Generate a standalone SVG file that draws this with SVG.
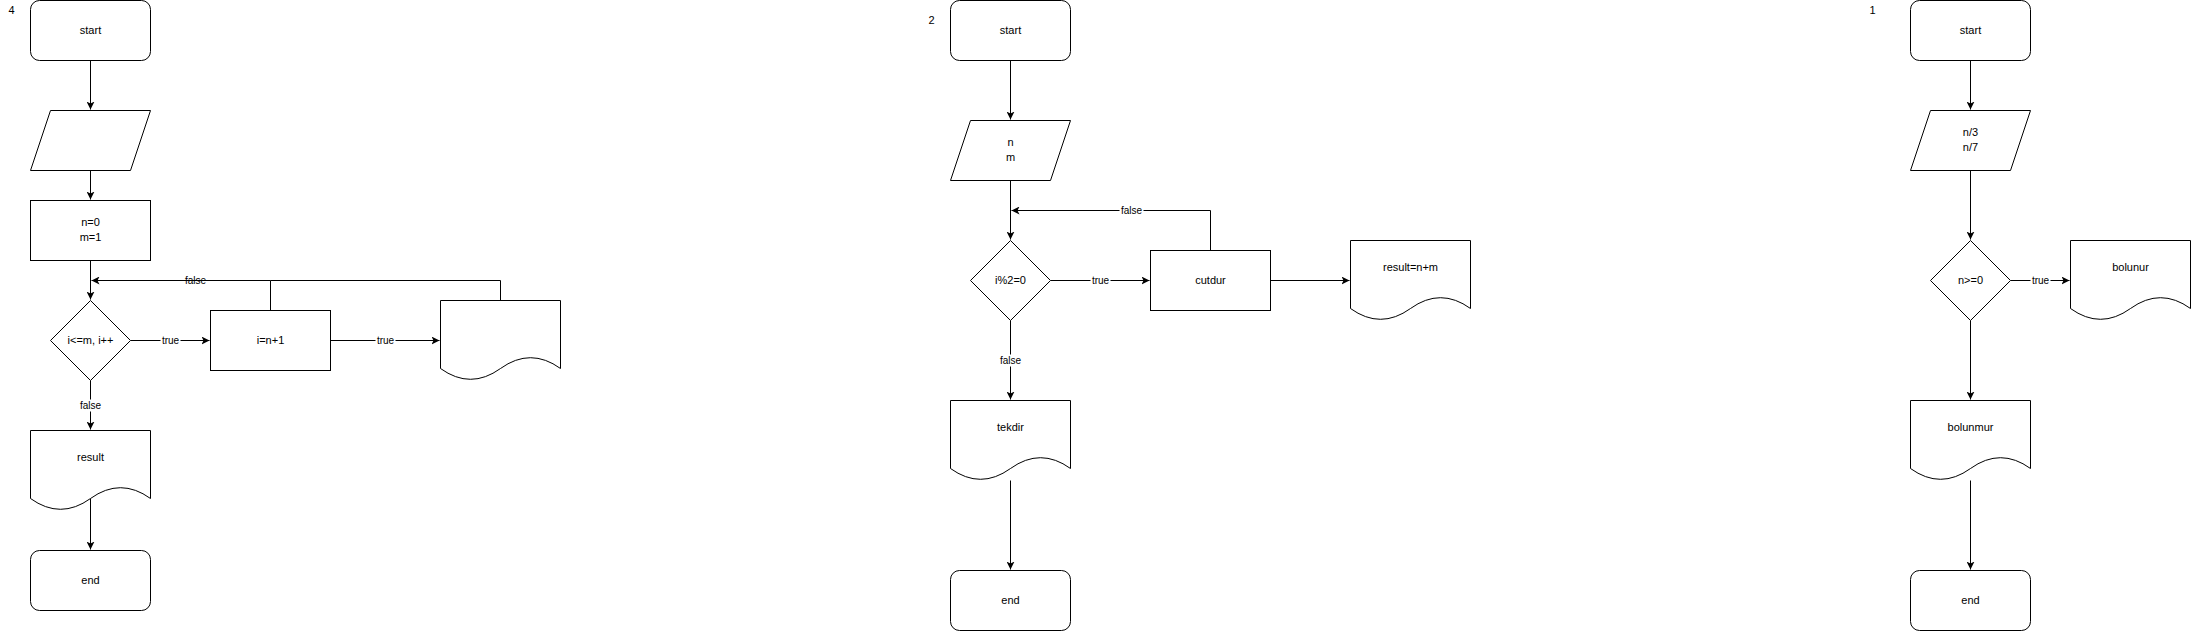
<svg xmlns="http://www.w3.org/2000/svg" width="2191" height="631" viewBox="0 0 2191 631">
<defs>
<style>
.s{fill:#fff;stroke:#000;stroke-width:1}
.e{fill:none;stroke:#000;stroke-width:1}
.t{font-family:"Liberation Sans",Arial,sans-serif;font-size:11px;fill:#000;text-anchor:middle;dominant-baseline:central}
.l{font-family:"Liberation Sans",Arial,sans-serif;font-size:10px;fill:#000;text-anchor:middle;dominant-baseline:central}
.bg{fill:#fff;stroke:none}
</style>
<marker id="arr" markerWidth="9" markerHeight="8" refX="8" refY="4" orient="auto" markerUnits="userSpaceOnUse" viewBox="0 0 9 8"><path d="M0,0 L8,4 L0,8 L2,4 Z" fill="#000"/></marker>
</defs>
<rect x="0" y="0" width="2191" height="631" fill="#fff"/>
<g transform="translate(0.5,0.5)">
<g id="connectors">
<path class="e" d="M90,60 V109" marker-end="url(#arr)"/>
<path class="e" d="M90,170 V199" marker-end="url(#arr)"/>
<path class="e" d="M90,260 V299" marker-end="url(#arr)"/>
<path class="e" d="M270,310 V280 H91" marker-end="url(#arr)"/>
<path class="e" d="M500,300 V280 H270"/>
<path class="e" d="M130,340 H209" marker-end="url(#arr)"/>
<path class="e" d="M330,340 H439" marker-end="url(#arr)"/>
<path class="e" d="M90,380 V429" marker-end="url(#arr)"/>
<path class="e" d="M90,498 V549" marker-end="url(#arr)"/>
<path class="e" d="M1010,60 V119" marker-end="url(#arr)"/>
<path class="e" d="M1010,180 V239" marker-end="url(#arr)"/>
<path class="e" d="M1210,250 V210 H1011" marker-end="url(#arr)"/>
<path class="e" d="M1050,280 H1149" marker-end="url(#arr)"/>
<path class="e" d="M1270,280 H1349" marker-end="url(#arr)"/>
<path class="e" d="M1010,320 V399" marker-end="url(#arr)"/>
<path class="e" d="M1010,480 V569" marker-end="url(#arr)"/>
<path class="e" d="M1970,60 V109" marker-end="url(#arr)"/>
<path class="e" d="M1970,170 V239" marker-end="url(#arr)"/>
<path class="e" d="M2010,280 H2069" marker-end="url(#arr)"/>
<path class="e" d="M1970,320 V399" marker-end="url(#arr)"/>
<path class="e" d="M1970,480 V569" marker-end="url(#arr)"/>
<text class="l" x="195" y="279.5">false</text>
<rect class="bg" x="160" y="334" width="20" height="12"/><text class="l" x="170" y="339.5">true</text>
<rect class="bg" x="375" y="334" width="20" height="12"/><text class="l" x="385" y="339.5">true</text>
<rect class="bg" x="78" y="399" width="24" height="12"/><text class="l" x="90" y="404.5">false</text>
<rect class="bg" x="1119" y="204" width="24" height="12"/><text class="l" x="1131" y="209.5">false</text>
<rect class="bg" x="1090" y="274" width="20" height="12"/><text class="l" x="1100" y="279.5">true</text>
<rect class="bg" x="998" y="354" width="24" height="12"/><text class="l" x="1010" y="359.5">false</text>
<rect class="bg" x="2030" y="274" width="20" height="12"/><text class="l" x="2040" y="279.5">true</text>
</g>
<g id="lbl4"><text class="t" x="11" y="9.5">4</text></g>
<g id="d4-start"><rect class="s" x="30" y="0" width="120" height="60" rx="9"/><text class="t" x="90" y="29">start</text></g>
<g id="d4-input"><path class="s" d="M50,110 H150 L130,170 H30 Z"/></g>
<g id="d4-init"><rect class="s" x="30" y="200" width="120" height="60"/><text class="t" x="90" y="221.5">n=0</text><text class="t" x="90" y="236.5">m=1</text></g>
<g id="d4-cond"><path class="s" d="M90,300 L130,340 L90,380 L50,340 Z"/><text class="t" x="90" y="339">i&lt;=m, i++</text></g>
<g id="d4-inc"><rect class="s" x="210" y="310" width="120" height="60"/><text class="t" x="270" y="339">i=n+1</text></g>
<g id="d4-doc"><path class="s" d="M440,300 H560 V368 Q530,346.4 500,368 Q470,389.6 440,368 Z"/></g>
<g id="d4-result"><path class="s" d="M30,430 H150 V498 Q120,476.4 90,498 Q60,519.6 30,498 Z"/><text class="t" x="90" y="456.5">result</text></g>
<g id="d4-end"><rect class="s" x="30" y="550" width="120" height="60" rx="9"/><text class="t" x="90" y="579">end</text></g>
<g id="lbl2"><text class="t" x="931" y="19.5">2</text></g>
<g id="d2-start"><rect class="s" x="950" y="0" width="120" height="60" rx="9"/><text class="t" x="1010" y="29">start</text></g>
<g id="d2-input"><path class="s" d="M970,120 H1070 L1050,180 H950 Z"/><text class="t" x="1010" y="141.5">n</text><text class="t" x="1010" y="156.5">m</text></g>
<g id="d2-cond"><path class="s" d="M1010,240 L1050,280 L1010,320 L970,280 Z"/><text class="t" x="1010" y="279">i%2=0</text></g>
<g id="d2-cutdur"><rect class="s" x="1150" y="250" width="120" height="60"/><text class="t" x="1210" y="279">cutdur</text></g>
<g id="d2-result"><path class="s" d="M1350,240 H1470 V308 Q1440,286.4 1410,308 Q1380,329.6 1350,308 Z"/><text class="t" x="1410" y="266">result=n+m</text></g>
<g id="d2-tekdir"><path class="s" d="M950,400 H1070 V468 Q1040,446.4 1010,468 Q980,489.6 950,468 Z"/><text class="t" x="1010" y="426.5">tekdir</text></g>
<g id="d2-end"><rect class="s" x="950" y="570" width="120" height="60" rx="9"/><text class="t" x="1010" y="599">end</text></g>
<g id="lbl1"><text class="t" x="1872" y="9.5">1</text></g>
<g id="d1-start"><rect class="s" x="1910" y="0" width="120" height="60" rx="9"/><text class="t" x="1970" y="29">start</text></g>
<g id="d1-input"><path class="s" d="M1930,110 H2030 L2010,170 H1910 Z"/><text class="t" x="1970" y="131.5">n/3</text><text class="t" x="1970" y="146.5">n/7</text></g>
<g id="d1-cond"><path class="s" d="M1970,240 L2010,280 L1970,320 L1930,280 Z"/><text class="t" x="1970" y="279">n&gt;=0</text></g>
<g id="d1-bolunur"><path class="s" d="M2070,240 H2190 V308 Q2160,286.4 2130,308 Q2100,329.6 2070,308 Z"/><text class="t" x="2130" y="266">bolunur</text></g>
<g id="d1-bolunmur"><path class="s" d="M1910,400 H2030 V468 Q2000,446.4 1970,468 Q1940,489.6 1910,468 Z"/><text class="t" x="1970" y="426.5">bolunmur</text></g>
<g id="d1-end"><rect class="s" x="1910" y="570" width="120" height="60" rx="9"/><text class="t" x="1970" y="599">end</text></g>
</g>
</svg>
